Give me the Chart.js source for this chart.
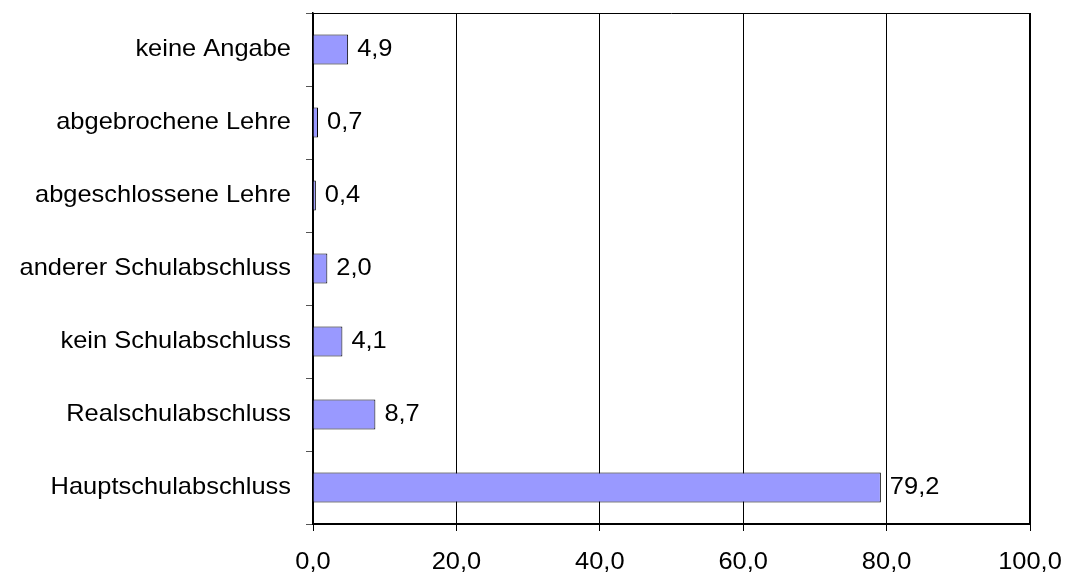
<!DOCTYPE html>
<html>
<head>
<meta charset="utf-8">
<script src="https://cdn.jsdelivr.net/npm/chart.js@4/dist/chart.umd.min.js"></script>
<style>
  html, body { margin: 0; padding: 0; background: #ffffff; }
  #wrap { width: 1068px; height: 577px; }
</style>
</head>
<body>
<div id="wrap"><canvas id="c" width="1068" height="577"></canvas></div>
<script>
// Schulabschluss / Ausbildung, Anteile in Prozent
const categories = [
  'keine Angabe',
  'abgebrochene Lehre',
  'abgeschlossene Lehre',
  'anderer Schulabschluss',
  'kein Schulabschluss',
  'Realschulabschluss',
  'Hauptschulabschluss'
];
const values = [4.9, 0.7, 0.4, 2.0, 4.1, 8.7, 79.2];
const xTicks = [0, 20, 40, 60, 80, 100];

const FONT_FAMILY = '"Liberation Sans", Arial, sans-serif';
const FONT_SIZE = 24;
const STRETCH = 1.06;   // slightly wide lettering
const fmt = v => Number(v).toFixed(1).replace('.', ',');

// Draw text with a small horizontal stretch
function wideText(ctx, text, x, y, align) {
  ctx.save();
  ctx.translate(x, y);
  ctx.scale(STRETCH, 1);
  ctx.textAlign = align;
  ctx.textBaseline = 'middle';
  ctx.fillText(text, 0, 0);
  ctx.restore();
}

// Frame around the plotting area (heavier on the right and bottom)
const framePlugin = {
  id: 'frame',
  afterDraw(chart) {
    const a = chart.chartArea, ctx = chart.ctx;
    const l = Math.round(a.left), t = Math.round(a.top);
    const r = Math.round(a.right), b = Math.round(a.bottom);
    ctx.save();
    ctx.strokeStyle = '#000000';
    ctx.lineWidth = 1;
    ctx.beginPath();
    ctx.moveTo(l, t + 0.5);
    ctx.lineTo(r, t + 0.5);
    ctx.stroke();
    ctx.lineWidth = 2;
    ctx.beginPath();
    ctx.moveTo(r, t);
    ctx.lineTo(r, b + 1);
    ctx.moveTo(l, b);
    ctx.lineTo(r + 1, b);
    ctx.stroke();
    ctx.restore();
  }
};

// Category names, axis numbers and value labels
const labelPlugin = {
  id: 'labels',
  afterDraw(chart) {
    const ctx = chart.ctx;
    const xs = chart.scales.x, ys = chart.scales.y;
    const a = chart.chartArea;
    ctx.save();
    ctx.font = FONT_SIZE + 'px ' + FONT_FAMILY;
    ctx.fillStyle = '#000000';
    categories.forEach((name, i) => {
      wideText(ctx, name, a.left - 22, ys.getPixelForTick(i), 'right');
    });
    xTicks.forEach(v => {
      wideText(ctx, fmt(v), xs.getPixelForValue(v), a.bottom + 38, 'center');
    });
    const meta = chart.getDatasetMeta(0);
    meta.data.forEach((bar, i) => {
      wideText(ctx, fmt(values[i]), bar.x + 9, bar.y, 'left');
    });
    ctx.restore();
  }
};

function noPad(scale) {
  scale.paddingTop = 0;
  scale.paddingBottom = 0;
  scale.paddingLeft = 0;
  scale.paddingRight = 0;
}

new Chart(document.getElementById('c'), {
  type: 'bar',
  data: {
    labels: categories,
    datasets: [{
      data: values,
      backgroundColor: '#9999ff',
      borderColor: '#000000',
      borderWidth: 1,
      borderSkipped: 'start',
      barPercentage: 0.41,
      categoryPercentage: 1.0
    }]
  },
  options: {
    indexAxis: 'y',
    responsive: false,
    animation: false,
    devicePixelRatio: 1,
    layout: { padding: { top: 13, right: 38, left: 0, bottom: 0 } },
    plugins: { legend: { display: false }, tooltip: { enabled: false } },
    scales: {
      x: {
        type: 'linear',
        min: 0,
        max: 100,
        afterBuildTicks(scale) { scale.ticks = xTicks.map(v => ({ value: v })); },
        afterFit(scale) { scale.height = 53; noPad(scale); },
        ticks: { display: false },
        grid: {
          color: '#000000',
          lineWidth: 1,
          drawOnChartArea: true,
          drawTicks: true,
          tickLength: 7
        },
        border: { display: true, color: '#000000', width: 1 }
      },
      y: {
        type: 'category',
        afterFit(scale) { scale.width = 313; noPad(scale); },
        ticks: { display: false },
        grid: {
          offset: true,
          drawOnChartArea: false,
          drawTicks: true,
          tickLength: 7,
          color: '#555555'
        },
        border: { display: true, color: '#000000', width: 1.5 }
      }
    }
  },
  plugins: [framePlugin, labelPlugin]
});
</script>
</body>
</html>
